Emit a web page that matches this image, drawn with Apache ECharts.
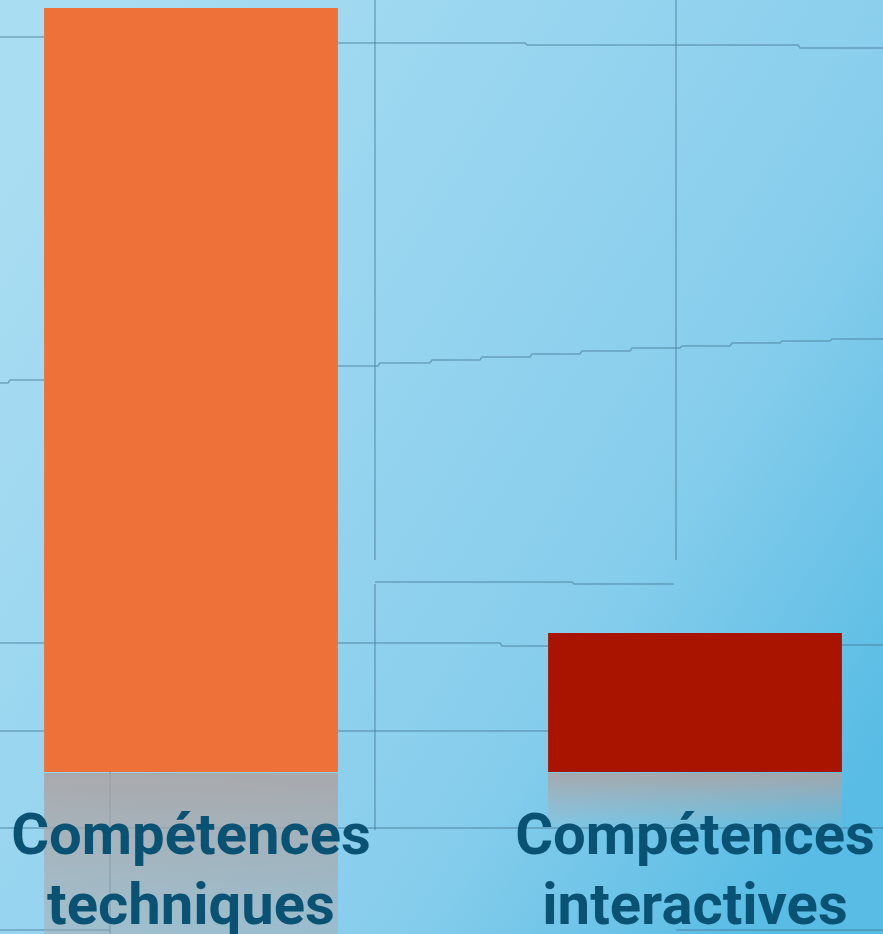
<!DOCTYPE html>
<html><head><meta charset="utf-8">
<script src="https://cdn.jsdelivr.net/npm/echarts@6/dist/echarts.min.js"></script>
<style>html,body{margin:0;padding:0;}#c{width:883px;height:934px;}</style>
</head><body><div id="c"></div>
<script>
const categories = ['Compétences\ntechniques', 'Compétences\ninteractives'];
const values = [100, 18.2];
const barColors = ['#EE7139', '#A81400'];

const chart = echarts.init(document.getElementById('c'));
const deco = 'rgba(70,120,150,0.55)';
function line(points){ return {type:'polyline', shape:{points}, style:{stroke:deco, lineWidth:1.5, fill:null}, silent:true, z:-1}; }
chart.setOption({
  animation:false,
  backgroundColor:{type:'linear',x:0,y:0.2,x2:1,y2:0.8,colorStops:[
    {offset:0,color:'#A9DDF2'},{offset:0.4,color:'#96D4EF'},{offset:0.7,color:'#86CDEC'},{offset:1,color:'#58BCE4'}]},
  graphic:[
    line([[0,37],[44,37]]), line([[338,43],[525,43],[527,45],[798,45],[800,48],[883,48]]),
    line([[0,383],[8,383],[10,380],[44,380]]),
    line([[338,366],[378,366],[380,363],[430,363],[432,360],[480,360],[482,357],[530,357],[532,354],[580,354],[582,351],[630,351],[632,348],[680,348],[682,346],[730,346],[732,343],[780,343],[782,341],[830,341],[832,339],[883,339]]),
    line([[375,0],[375,560]]), line([[676,0],[676,560]]),
    line([[375,582],[572,582],[574,584],[674,584]]),
    line([[375,584],[375,830]]),
    line([[0,643],[44,643]]), line([[338,643],[500,643],[502,646],[548,646]]), line([[842,645],[883,645]]),
    line([[0,731],[44,731]]), line([[338,731],[548,731]]),
    line([[110,772],[110,934]]),
    line([[0,828],[883,828]]),
    line([[0,930],[110,930]]), line([[676,930],[883,930]])
  ],
  grid:{left:-61, right:-64, top:8, bottom:162, containLabel:false, outerBoundsMode:'none'},
  xAxis:{type:'category', data:categories, z:10,
    axisLine:{show:false}, axisTick:{show:false},
    axisLabel:{interval:0, margin:32, color:'#0A5274', fontFamily:'Roboto', fontWeight:'bold', fontSize:58, lineHeight:70, verticalAlign:'top', hideOverlap:false}},
  yAxis:{type:'value', min:0, max:100, show:false, splitLine:{show:false}},
  series:[
    {type:'bar', data:values.map((v,i)=>({value:v,itemStyle:{color:barColors[i]}})), barWidth:'58.3%', z:3},
    {type:'custom', z:2, data:values.map((v,i)=>[i,v]),
      renderItem:function(params, api){
        const i = api.value(0), v = api.value(1);
        const base = api.coord([i,0]);
        const top = api.coord([i,v]);
        const w = api.size([1,0])[0]*0.583;
        const h = (base[1]-top[1])*0.45;
        return {type:'rect', shape:{x:base[0]-w/2, y:base[1]+1, width:w, height:h},
          style:{fill:{type:'linear',x:0,y:0,x2:0,y2:1,colorStops:[
            {offset:0,color:'rgba(172,162,162,0.85)'},{offset:1,color:'rgba(175,175,175,0)'}]}}};
      }}
  ]
});
</script></body></html>
